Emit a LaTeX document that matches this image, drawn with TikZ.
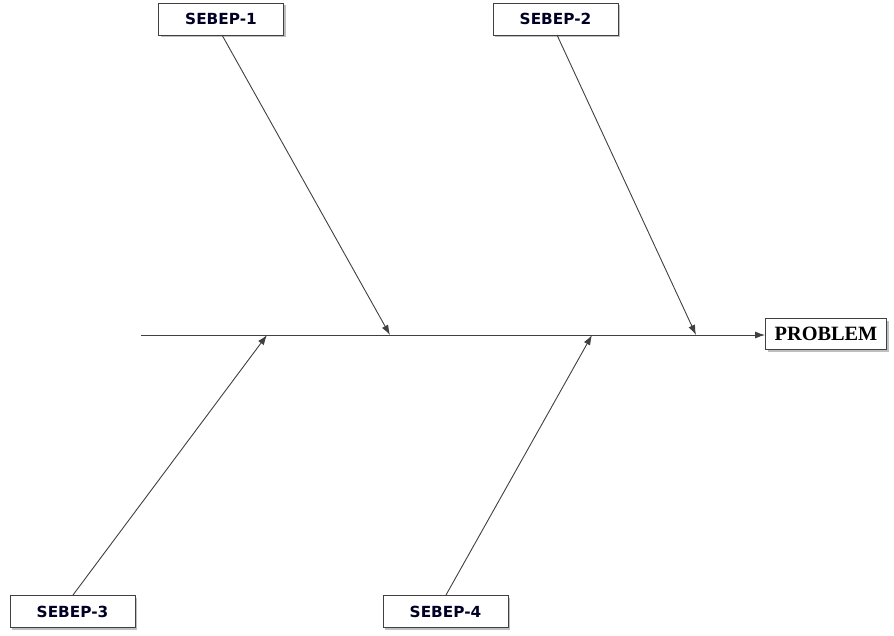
\documentclass[tikz,border=0pt]{standalone}
\usepackage{fontspec}
\setmainfont{Liberation Serif}
\newfontfamily\boxfont{DejaVu Sans}
\usetikzlibrary{arrows.meta,shadows}
\definecolor{linec}{HTML}{404040}
\tikzset{
  causebox/.style={draw=linec, line width=0.9pt, fill=white, minimum width=125pt, minimum height=32pt,
    inner sep=0pt, font=\boxfont\bfseries\fontsize{15.3}{17}\selectfont, text=black!85!blue,
    drop shadow={shadow xshift=2pt, shadow yshift=-2pt, fill=black!25, opacity=1}},
  effectbox/.style={causebox, minimum width=121pt, minimum height=31pt, font=\bfseries\fontsize{20.3}{22}\selectfont, text=black},
  bone/.style={draw=linec, line width=0.9pt, -{Latex[length=10pt,width=7pt]}}
}
\begin{document}
\begin{tikzpicture}[x=1pt,y=-1pt]
\useasboundingbox (0,0) rectangle (894,635);
\node[causebox] (b1) at (221,19) {SEBEP-1};
\node[causebox] (b2) at (555.5,19) {SEBEP-2};
\node[causebox] (b3) at (72.5,611.5) {SEBEP-3};
\node[causebox] (b4) at (445.5,611.5) {SEBEP-4};
\node[effectbox] (prob) at (826,334) {PROBLEM};
\coordinate (s0) at (141,335);
\coordinate (p1) at (390,335);
\coordinate (p2) at (696,335);
\coordinate (p3) at (267,335);
\coordinate (p4) at (592,335);
\coordinate (t1) at (222,35);
\coordinate (t2) at (557,35);
\coordinate (t3) at (73,595);
\coordinate (t4) at (446,595);
\draw[bone] (s0) -- (prob.west |- s0);
\draw[bone] (t1) -- (p1);
\draw[bone] (t2) -- (p2);
\draw[bone] (t3) -- (p3);
\draw[bone] (t4) -- (p4);
\end{tikzpicture}
\end{document}
